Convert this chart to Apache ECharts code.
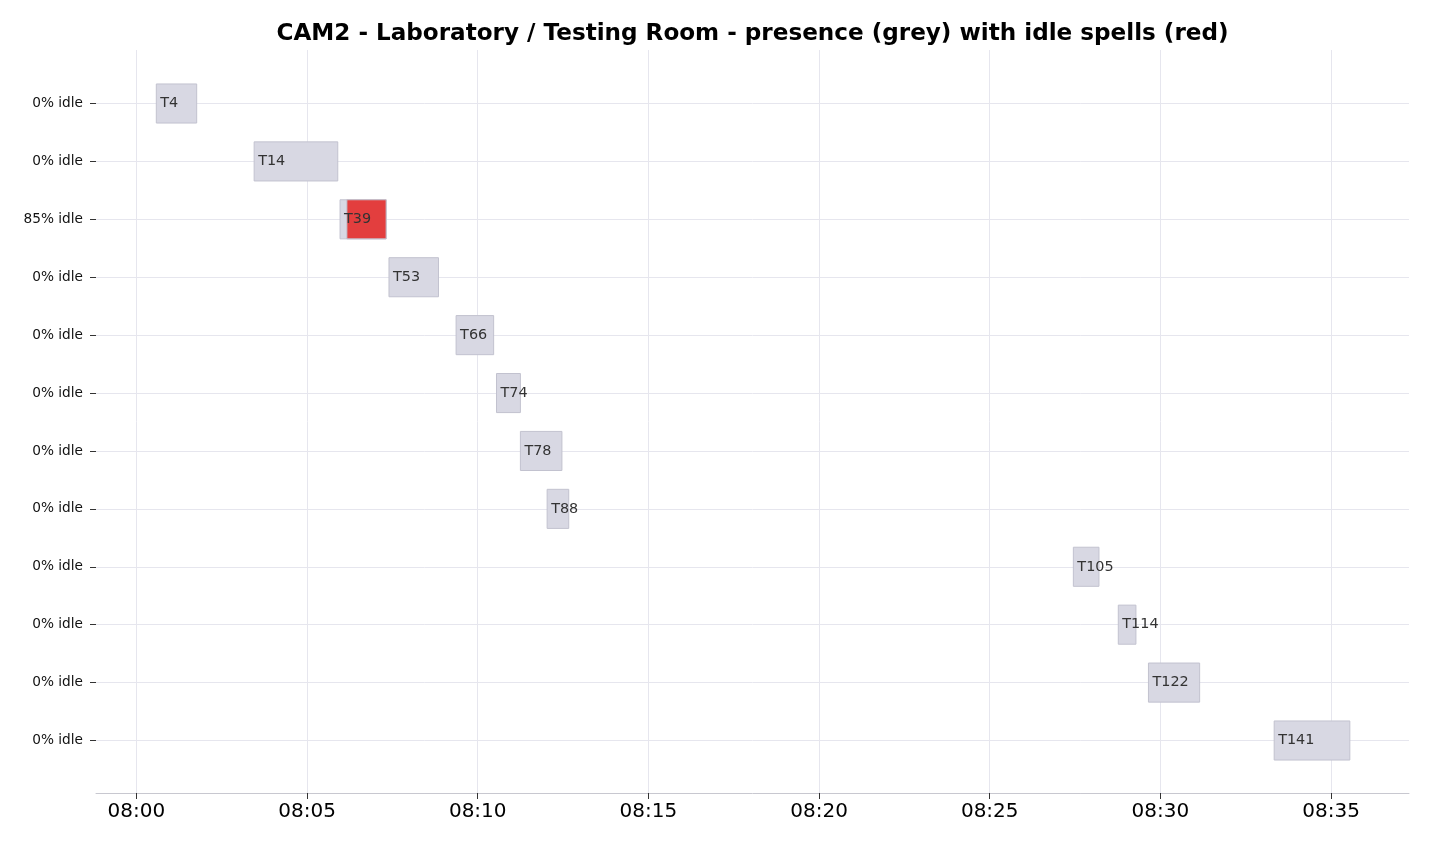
<!DOCTYPE html>
<html>
<head>
<meta charset="utf-8">
<title>CAM2 presence</title>
<script src="https://cdn.jsdelivr.net/npm/echarts@6/dist/echarts.min.js"></script>
<style>
  html, body { margin: 0; padding: 0; background: #fff; }
  #chart { width: 1430px; height: 847px; }
</style>
</head>
<body>
<div id="chart"></div>
<script>
// presence tracks, one per row (top to bottom)
var tracks = ['T4', 'T14', 'T39', 'T53', 'T66', 'T74', 'T78', 'T88', 'T105', 'T114', 'T122', 'T141'];
var startTimes = ['08:00:35', '08:03:27', '08:05:58', '08:07:24', '08:09:22', '08:10:33',
                  '08:11:15', '08:12:02', '08:27:27', '08:28:46', '08:29:39', '08:33:20'];
var endTimes = ['08:01:46', '08:05:54', '08:07:19', '08:08:51', '08:10:28', '08:11:15',
                '08:12:28', '08:12:40', '08:28:12', '08:29:17', '08:31:09', '08:35:33'];
var idlePct = [0, 0, 85, 0, 0, 0, 0, 0, 0, 0, 0, 0];
// idle spells (red), null when none
var idleStarts = [null, null, '08:06:10', null, null, null, null, null, null, null, null, null];
var idleEnds = [null, null, '08:07:19', null, null, null, null, null, null, null, null, null];
// x axis ticks, 5 minutes apart
var tickLabels = ['08:00', '08:05', '08:10', '08:15', '08:20', '08:25', '08:30', '08:35'];

var BASE = '08:00:00';
function secs(t) {
    if (t == null) return null;
    var p = t.split(':');
    var b = BASE.split(':');
    return (+p[0] - +b[0]) * 3600 + (+p[1] - +b[1]) * 60 + (+p[2] - +b[2]);
}

// full x range shown (seconds from 08:00)
var xMin = -71;
var xMax = 2237;
var tickStep = 300;
var tickMax = (tickLabels.length - 1) * tickStep;

var plotLeft = 96;
var plotRight = 21;
var plotWidth = 1430 - plotLeft - plotRight;
var pxPerSec = plotWidth / (xMax - xMin);
var tickLeft = plotLeft + (0 - xMin) * pxPerSec;
var tickRight = plotRight + (xMax - tickMax) * pxPerSec;

var data = tracks.map(function (name, i) {
    return {
        name: name,
        value: [secs(startTimes[i]), secs(endTimes[i]), i, secs(idleStarts[i]), secs(idleEnds[i])]
    };
});

var FONT = 'DejaVu Sans';
var grey = '#d8d8e3';
var greyEdge = '#c2c2cf';
var red = '#e33e3e';

function renderItem(params, api) {
    var row = api.value(2);
    var s = api.coord([api.value(0), row]);
    var e = api.coord([api.value(1), row]);
    var h = api.size([0, 1])[1] * 0.675;
    var children = [{
        type: 'rect',
        shape: { x: s[0], y: s[1] - h / 2, width: e[0] - s[0], height: h },
        style: { fill: grey, stroke: greyEdge, lineWidth: 1 }
    }];
    var is = api.value(3), ie = api.value(4);
    if (is != null && !isNaN(is) && ie != null && !isNaN(ie)) {
        var a = api.coord([is, row]);
        var b = api.coord([ie, row]);
        children.push({
            type: 'rect',
            shape: { x: a[0], y: a[1] - h / 2, width: b[0] - a[0], height: h },
            style: { fill: red, stroke: greyEdge, lineWidth: 1 }
        });
    }
    children.push({
        type: 'text',
        style: {
            x: s[0] + 4, y: s[1],
            text: tracks[params.dataIndex],
            fill: '#333',
            font: '14.4px "' + FONT + '"',
            verticalAlign: 'middle',
            align: 'left'
        }
    });
    return { type: 'group', children: children };
}

var chart = echarts.init(document.getElementById('chart'), null, { renderer: 'canvas' });

chart.setOption({
    backgroundColor: '#fff',
    animation: false,
    title: {
        text: 'CAM2 - Laboratory / Testing Room - presence (grey) with idle spells (red)',
        left: plotLeft + plotWidth / 2 - 5,
        textAlign: 'center',
        top: 17,
        textStyle: { fontFamily: FONT, fontSize: 23.1, fontWeight: 'bold', color: '#000' }
    },
    grid: [
        // time ticks and vertical grid lines
        { left: tickLeft, right: tickRight, top: 50, bottom: 54 },
        // rows, centred on the first and last row
        { left: plotLeft, right: plotRight, top: 103.5, bottom: 106.5 }
    ],
    xAxis: [{
        gridIndex: 0,
        type: 'value',
        min: 0,
        max: tickMax,
        interval: tickStep,
        axisLine: { show: false, onZero: false },
        axisTick: { show: true, length: 6, lineStyle: { color: '#333', width: 1 } },
        axisLabel: {
            margin: 9,
            fontFamily: FONT,
            fontSize: 20,
            color: '#000',
            formatter: function (v) { return tickLabels[Math.round(v / tickStep)]; }
        },
        splitLine: { show: true, lineStyle: { color: '#e6e6ee', width: 1 } }
    }, {
        gridIndex: 1,
        type: 'value',
        min: xMin,
        max: xMax,
        offset: 52.5,
        axisLine: { show: true, onZero: false, lineStyle: { color: '#c8c8d0', width: 1 } },
        axisTick: { show: false },
        axisLabel: { show: false },
        splitLine: { show: false }
    }],
    yAxis: [{
        gridIndex: 0,
        type: 'value',
        show: false
    }, {
        gridIndex: 1,
        type: 'value',
        min: 0,
        max: tracks.length - 1,
        interval: 1,
        inverse: true,
        axisLine: { show: false, onZero: false },
        axisTick: { show: true, length: 6, lineStyle: { color: '#333', width: 1 } },
        axisLabel: {
            margin: 13,
            fontFamily: FONT,
            fontSize: 13.7,
            color: '#111',
            formatter: function (v) { return idlePct[Math.round(v)] + '% idle'; }
        },
        splitLine: { show: true, lineStyle: { color: '#e6e6ee', width: 1 } }
    }],
    series: [{
        type: 'custom',
        xAxisIndex: 1,
        yAxisIndex: 1,
        clip: false,
        renderItem: renderItem,
        encode: { x: [0, 1], y: 2 },
        data: data
    }]
});
</script>
</body>
</html>
